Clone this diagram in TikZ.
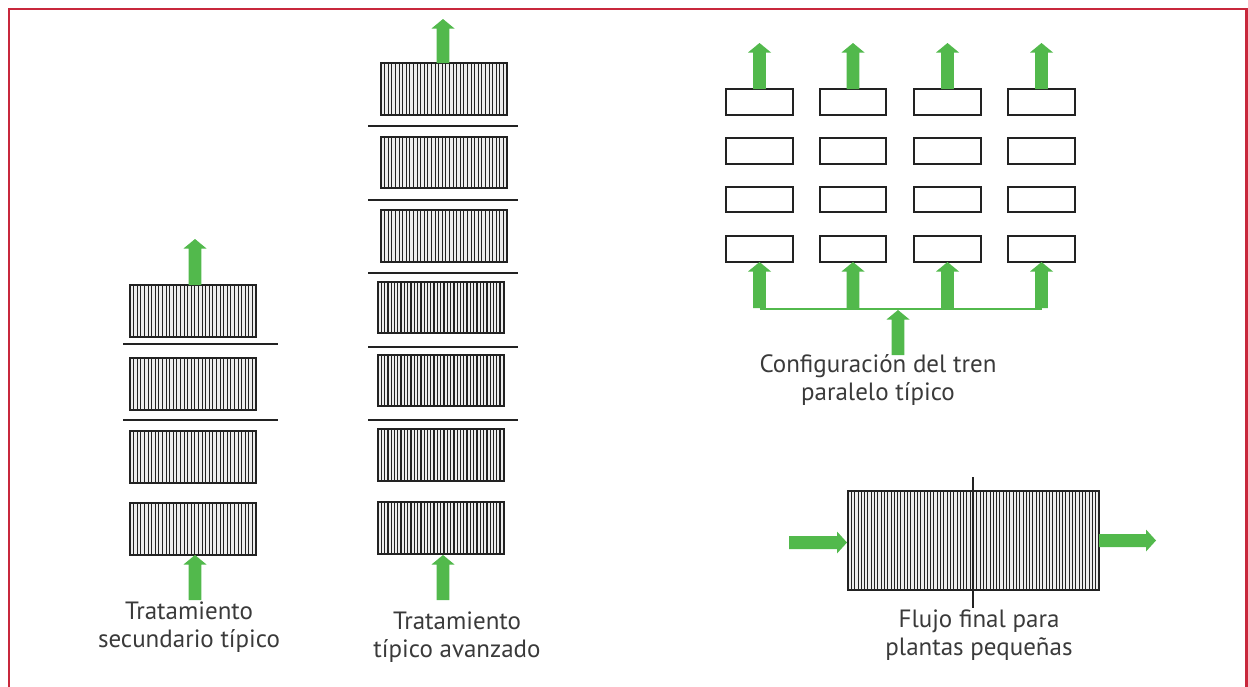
\documentclass[tikz,border=0pt]{standalone}
\usepackage{fontspec}
\setmainfont{PT Sans}
\definecolor{arrgreen}{HTML}{52B94C}
\definecolor{framered}{HTML}{C8283C}
\definecolor{txt}{HTML}{3A3A3A}
\definecolor{ink}{HTML}{222222}
\newcommand\hatchbox[7]{% name, x1, y1, x2, y2, step, line width
  \fill[gray!14] (#2,#3) rectangle (#4,#5);
  \pgfmathsetmacro\hstart{#2+#6}\pgfmathsetmacro\hnext{#2+2*#6}
  \foreach \xx in {\hstart,\hnext,...,#4} \draw[ink,line width=#7] (\xx,#3) -- (\xx,#5);
  \node[boxst,anchor=north west,minimum width={#4-#2},minimum height={#5-#3}] (#1) at (#2,#3) {};
}
\newcommand\plainbox[5]{%
  \node[boxst,anchor=north west,minimum width={#4-#2},minimum height={#5-#3}] (#1) at (#2,#3) {};
}
\newcommand\uparr[2]{% #1 base coordinate (shaft bottom centre), #2 length
  \fill[arrgreen,shift={(#1)}] (-6.3,0) -- (-6.3,{-#2+9.5}) -- (-11.5,{-#2+9.5}) -- (0,-#2)
     -- (11.5,{-#2+9.5}) -- (6.3,{-#2+9.5}) -- (6.3,0) -- cycle;
}
\newcommand\rightarr[2]{% #1 tail coordinate, #2 length
  \fill[arrgreen,shift={(#1)}] (0,-6.5) -- ({#2-10},-6.5) -- ({#2-10},-11) -- (#2,0)
     -- ({#2-10},11) -- ({#2-10},6.5) -- (0,6.5) -- cycle;
}
\tikzset{
  boxst/.style={draw=ink,line width=1.3pt,inner sep=0pt,outer sep=0pt},
  sep/.style={draw=ink,line width=1.3pt},
  lbl/.style={text=txt,font=\fontsize{25}{28}\selectfont,align=center,inner sep=0pt},
}
\begin{document}
\begin{tikzpicture}[x=1pt,y=-1pt]
\useasboundingbox (0,0) rectangle (1248,686);
\draw[framered,line width=2.5pt] (9,690) -- (9,9) -- (1246.5,9) -- (1246.5,690);

% ---------- left stack
\hatchbox{L1}{130}{285}{256}{337}{3.6}{0.8}
\hatchbox{L2}{130}{358}{256}{410}{3.6}{0.8}
\hatchbox{L3}{130}{431}{256}{483}{3.6}{0.8}
\hatchbox{L4}{130}{503}{256}{555}{3.6}{0.8}
\coordinate (ls1a) at (123,344); \coordinate (ls1b) at (278,344);
\coordinate (ls2a) at (123,420); \coordinate (ls2b) at (278,420);
\draw[sep] (ls1a) -- (ls1b);
\draw[sep] (ls2a) -- (ls2b);
\uparr{195,285}{46}
\uparr{195,600}{45}
\node[lbl,anchor=base] (Ltxt) at (189,647) {Tratamiento\\secundario típico};

% ---------- middle stack
\hatchbox{M1}{381}{63}{507}{115}{3.6}{0.8}
\hatchbox{M2}{381}{137}{507}{188}{3.6}{0.8}
\hatchbox{M3}{381}{210}{507}{262}{3.6}{0.8}
\hatchbox{M4}{378}{282}{504}{333}{3.3}{1.3}
\hatchbox{M5}{378}{355}{504}{406}{3.3}{1.3}
\hatchbox{M6}{378}{429}{504}{481}{3.3}{1.3}
\hatchbox{M7}{378}{502}{504}{554}{3.3}{1.3}
\foreach \yy in {126,200,273,347,420} \draw[sep] (368,\yy) -- (518,\yy);
\uparr{443,63}{44}
\uparr{443,600}{45}
\node[lbl,anchor=base] (Mtxt) at (457,657) {Tratamiento\\típico avanzado};

% ---------- parallel train
\foreach \cx/\xa/\xb in {1/726/793, 2/820/886, 3/914/981, 4/1008/1075}{
  \foreach \r/\ya/\yb in {1/89/115, 2/138/164, 3/187/212, 4/236/262}{
    \plainbox{P\r\cx}{\xa}{\ya}{\xb}{\yb}
  }
}
\foreach \cx in {1,2,3,4}{
  \uparr{P1\cx.north}{46}
  \coordinate (B\cx) at ([yshift=-46]P4\cx.south);
  \uparr{B\cx}{46}
}
\draw[arrgreen,line width=1.6pt] ([yshift=-1]B1) -- ([yshift=-1]B4);
\coordinate (Cin) at (898,355);
\uparr{Cin}{45}
\node[lbl,anchor=base] (Ptxt) at (878,400) {Configuración del tren\\paralelo típico};

% ---------- small plants
\hatchbox{F}{848}{491}{1099}{590}{3.3}{0.7}
\coordinate (Ftop) at (973,477); \coordinate (Fbot) at (973,608);
\draw[ink,line width=1.2pt] (Ftop) -- (Fbot);
\coordinate (Fin) at (789,542.5);
\rightarr{Fin}{58}
\rightarr{F.east}{57}
\node[lbl,anchor=base] (Ftxt) at (979,655) {Flujo final para\\plantas pequeñas};
\end{tikzpicture}
\end{document}
